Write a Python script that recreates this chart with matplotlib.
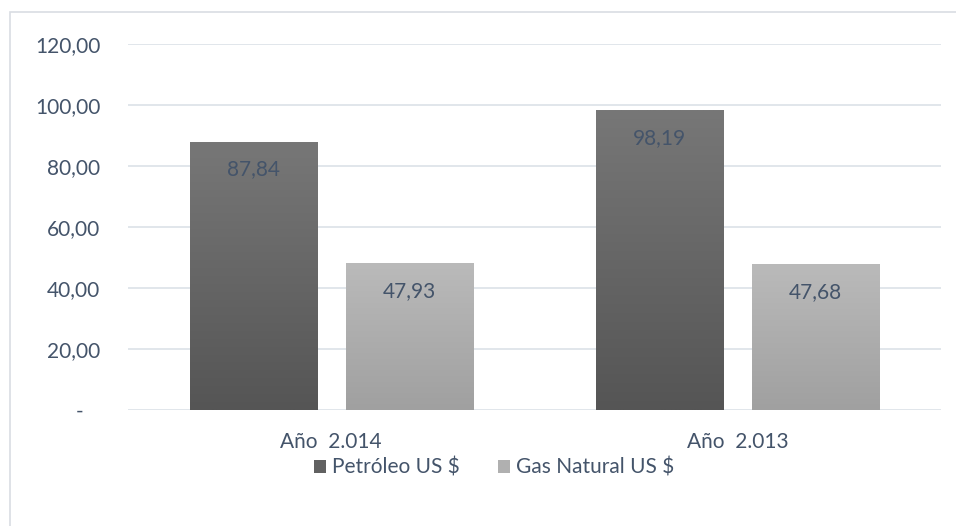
"""Petróleo vs Gas Natural price bars, 2014 and 2013."""
import matplotlib
matplotlib.use('Agg')
import matplotlib.pyplot as plt
import numpy as np
from matplotlib.colors import LinearSegmentedColormap
from matplotlib.patches import Patch, Rectangle

plt.rcParams['font.family'] = ['Lato', 'DejaVu Sans']

categories = ['Año  2.014', 'Año  2.013']
series_names = ['Petróleo US $', 'Gas Natural US $']
petroleo = [87.84, 98.19]
gas = [47.93, 47.68]
yticks = [0, 20, 40, 60, 80, 100, 120]
ytick_labels = ['-   ', '20,00', '40,00', '60,00', '80,00', '100,00', '120,00']

# top colour, bottom colour for each series
grad = [('#777777', '#555555'), ('#bababa', '#a0a0a0')]
legend_cols = ['#616161', '#b0b0b0']
txt = '#44546a'
fs = 15

fig = plt.figure(figsize=(9.56, 5.26), dpi=100)
fig.patches.append(Rectangle((10 / 956, -0.1), 1.2, (526 - 12) / 526 + 0.1,
                             transform=fig.transFigure, fill=False,
                             edgecolor='#d9dde3', linewidth=1.2))
ax = fig.add_axes([128 / 956, 116 / 526, (941 - 128) / 956, (410 - 44) / 526])

x = np.arange(len(categories))
width = 0.313
offset = 0.192
for vals, off, (c_top, c_bot) in zip([petroleo, gas], [-offset, offset], grad):
    cmap = LinearSegmentedColormap.from_list('g', [c_bot, c_top])
    for xi, v in zip(x, vals):
        x0 = xi + off - width / 2
        ax.imshow(np.linspace(0, 1, 256).reshape(-1, 1), cmap=cmap,
                  origin='lower', aspect='auto', extent=[x0, x0 + width, 0, v],
                  zorder=2)
        ax.annotate(f'{v:.2f}'.replace('.', ','), (xi + off, v),
                    xytext=(0, -19.5), textcoords='offset points',
                    ha='center', va='center', fontsize=fs, color=txt, zorder=3)

ax.set_xlim(-0.5, 1.5)
ax.set_ylim(0, 120)
ax.set_yticks(yticks)
ax.set_yticklabels(ytick_labels)
ax.set_xticks(x)
ax.set_xticklabels(categories)
ax.tick_params(axis='y', length=0, pad=20, labelsize=fs, labelcolor=txt)
ax.tick_params(axis='x', length=0, pad=15.5, labelsize=fs, labelcolor=txt)
ax.grid(axis='y', color='#dce1e8', linewidth=1.2, zorder=0)
ax.set_axisbelow(True)
for s in ax.spines.values():
    s.set_visible(False)

handles = [Patch(facecolor=c, edgecolor='none') for c in legend_cols]
fig.legend(handles, series_names, loc='center', bbox_to_anchor=(494 / 956, 1 - 468 / 526),
           ncol=2, frameon=False, fontsize=fs, labelcolor=txt,
           handlelength=0.6, handleheight=0.6, handletextpad=0.3, columnspacing=1.8)

plt.savefig('out.png', dpi=100)
